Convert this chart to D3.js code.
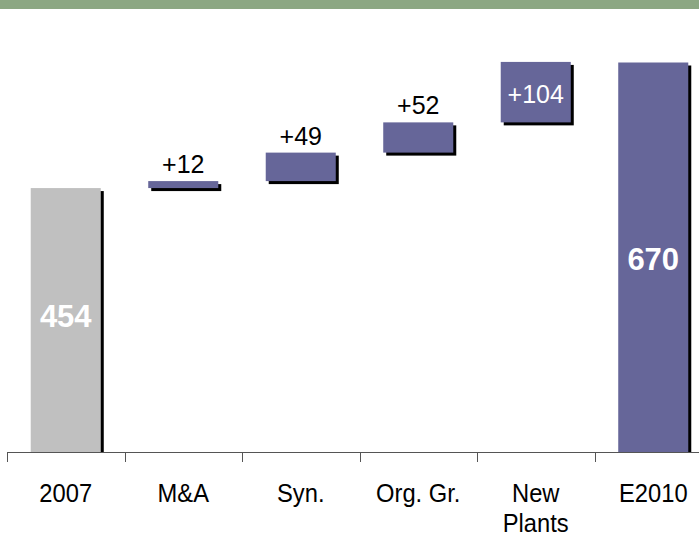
<!DOCTYPE html>
<html>
<head>
<meta charset="utf-8">
<script src="https://cdn.jsdelivr.net/npm/d3@7"></script>
<style>
  html, body { margin: 0; padding: 0; background: #fff; overflow: hidden; }
  svg { display: block; font-family: Arial, "Liberation Sans", sans-serif; }
</style>
</head>
<body>
<svg id="chart" width="699" height="534"></svg>
<script>
// Waterfall: 2007 base, growth contributions, 2010 estimate
const categories = ["2007", "M&A", "Syn.", "Org. Gr.", "New Plants", "E2010"];
const values = [454, 12, 49, 52, 104, 670];
const kinds = ["total", "delta", "delta", "delta", "delta", "total"];
const valueLabels = ["454", "+12", "+49", "+52", "+104", "670"];

const colors = { base: "#c0c0c0", bar: "#666699", band: "#8ca783", axis: "#555" };

const svg = d3.select("#chart");
const W = 699;

// Header strip
svg.append("rect").attr("x", 0).attr("y", 0).attr("width", W).attr("height", 9)
  .attr("fill", colors.band);

const x = d3.scaleBand().domain(categories).range([7, 712])
  .paddingInner(0.404).paddingOuter(0.202);
const y = d3.scaleLinear().domain([0, 670]).range([452, 62.5]);

// Running totals for floating bars
let running = 0;
const bars = categories.map((c, i) => {
  let lo, hi;
  if (kinds[i] === "total") { lo = 0; hi = values[i]; running = values[i]; }
  else { lo = running; hi = running + values[i]; running = hi; }
  return { cat: c, lo, hi, kind: kinds[i], label: valueLabels[i], i };
});

const g = svg.append("g");

// Drop shadows
g.selectAll("rect.shadow").data(bars).join("rect")
  .attr("class", "shadow")
  .attr("x", d => x(d.cat) + 3)
  .attr("y", d => y(d.hi) + 3)
  .attr("width", x.bandwidth())
  .attr("height", d => y(d.lo) - y(d.hi) - (d.kind === "total" ? 3 : 0))
  .attr("fill", "#000");

g.selectAll("rect.bar").data(bars).join("rect")
  .attr("class", "bar")
  .attr("x", d => x(d.cat))
  .attr("y", d => y(d.hi))
  .attr("width", x.bandwidth())
  .attr("height", d => y(d.lo) - y(d.hi))
  .attr("fill", d => d.i === 0 ? colors.base : colors.bar);

// Axis line and ticks at band boundaries
const tickPos = d3.range(categories.length + 1).map(i => x.range()[0] + i * x.step());
svg.append("line").attr("x1", 7).attr("x2", W).attr("y1", 452.5).attr("y2", 452.5)
  .attr("stroke", colors.axis).attr("stroke-width", 1);
svg.selectAll("line.tick").data(tickPos).join("line")
  .attr("class", "tick")
  .attr("x1", d => Math.round(d) + 0.5).attr("x2", d => Math.round(d) + 0.5)
  .attr("y1", 452).attr("y2", 462)
  .attr("stroke", colors.axis).attr("stroke-width", 1);

// Category labels (slightly condensed face)
svg.selectAll("text.cat").data(categories).join("text")
  .attr("class", "cat")
  .attr("transform", d => `translate(${x(d) + x.bandwidth() / 2},502) scale(0.95,1)`)
  .attr("text-anchor", "middle")
  .attr("font-size", 25)
  .attr("fill", "#000")
  .each(function (d) {
    const words = d === "New Plants" ? ["New", "Plants"] : [d];
    d3.select(this).selectAll("tspan").data(words).join("tspan")
      .attr("x", 0)
      .attr("dy", (w, k) => k === 0 ? 0 : 30)
      .text(w => w);
  });

// Value labels: totals centred in bar, deltas above bar, largest delta inside
g.selectAll("text.val").data(bars).join("text")
  .attr("class", "val")
  .attr("x", d => x(d.cat) + x.bandwidth() / 2)
  .attr("y", d => {
    const mid = (y(d.lo) + y(d.hi)) / 2;
    if (d.i === 0) return mid + 7;
    if (d.kind === "total") return mid + 13;
    if (d.i === 4) return mid + 11;
    return y(d.hi) - 8;
  })
  .attr("text-anchor", "middle")
  .attr("font-size", d => d.kind === "total" ? 31 : 25)
  .attr("font-weight", d => d.kind === "total" ? "bold" : "normal")
  .attr("fill", d => (d.kind === "total" || d.i === 4) ? "#fff" : "#000")
  .text(d => d.label);
</script>
</body>
</html>
